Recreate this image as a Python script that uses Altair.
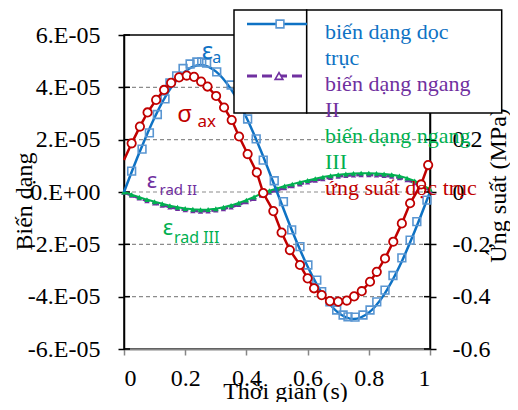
import altair as alt
import pandas as pd

# ---------------- data ----------------
# axial strain, smooth line (units of 1e-5)
ea_t = [0, 0.05, 0.1, 0.15, 0.2, 0.25, 0.3, 0.35, 0.4, 0.45, 0.5,
        0.55, 0.6, 0.65, 0.7, 0.75, 0.8, 0.85, 0.9, 0.95, 1.0]
ea_v = [0, 1.50, 2.85, 3.92, 4.61, 4.85, 4.61, 3.92, 2.85, 1.50, 0,
        -1.50, -2.85, -3.92, -4.61, -4.85, -4.61, -3.92, -2.85, -1.50, 0]

# axial strain, square markers (units of 1e-5)
sq_t = [0.025, 0.059, 0.083, 0.109, 0.134, 0.150, 0.172, 0.193, 0.216, 0.238,
        0.254, 0.270, 0.303, 0.350, 0.379, 0.404, 0.432, 0.455, 0.491, 0.521,
        0.548, 0.575, 0.601, 0.630, 0.646, 0.673, 0.695, 0.716, 0.732, 0.755,
        0.781, 0.804, 0.826, 0.853, 0.879, 0.908, 0.935, 0.957, 0.990]
sq_v = [0.80, 1.64, 2.26, 2.96, 3.56, 4.17, 4.44, 4.72, 4.89, 4.97,
        4.97, 4.93, 4.59, 4.09, 3.44, 2.79, 2.03, 1.22, 0.43, -0.37,
        -1.45, -2.09, -2.79, -3.37, -3.81, -4.20, -4.51, -4.70, -4.77, -4.78,
        -4.70, -4.51, -4.20, -3.75, -3.19, -2.52, -1.84, -1.13, -0.31]

# axial stress (MPa)
sig_t = [0.0, 0.025, 0.052, 0.077, 0.105, 0.131, 0.154, 0.180, 0.205, 0.229,
         0.252, 0.273, 0.301, 0.327, 0.352, 0.376, 0.404, 0.434, 0.455, 0.488,
         0.515, 0.542, 0.575, 0.600, 0.621, 0.646, 0.673, 0.700, 0.728, 0.752,
         0.777, 0.804, 0.826, 0.853, 0.880, 0.908, 0.935, 0.971, 0.994]
sig_v = [0.122, 0.186, 0.250, 0.304, 0.352, 0.390, 0.417, 0.438, 0.445, 0.440,
         0.422, 0.403, 0.367, 0.323, 0.275, 0.212, 0.145, 0.075, -0.004, -0.073,
         -0.155, -0.222, -0.279, -0.330, -0.368, -0.394, -0.417, -0.419, -0.415, -0.399,
         -0.379, -0.343, -0.305, -0.254, -0.190, -0.120, -0.043, 0.029, 0.103]

# radial strains (units of 1e-5)
rad_t = [0, 0.025, 0.05, 0.075, 0.1, 0.125, 0.15, 0.175, 0.2, 0.225,
         0.25, 0.275, 0.3, 0.325, 0.35, 0.375, 0.4, 0.425, 0.45, 0.475,
         0.5, 0.525, 0.55, 0.575, 0.6, 0.625, 0.65, 0.675, 0.7, 0.725,
         0.75, 0.775, 0.8, 0.825, 0.85, 0.875, 0.9, 0.925, 0.95, 0.975, 1.0]
rad3_v = [0.00, -0.10, -0.20, -0.29, -0.37, -0.45, -0.52, -0.58, -0.63, -0.66,
          -0.68, -0.67, -0.64, -0.58, -0.51, -0.42, -0.31, -0.19, -0.05, 0.05,
          0.14, 0.23, 0.30, 0.37, 0.44, 0.51, 0.57, 0.62, 0.66, 0.69,
          0.71, 0.72, 0.72, 0.71, 0.69, 0.66, 0.61, 0.53, 0.42, 0.27, 0.10]
rad2_v = [-0.02, -0.13, -0.24, -0.34, -0.43, -0.51, -0.58, -0.64, -0.69, -0.72,
          -0.74, -0.73, -0.70, -0.65, -0.58, -0.49, -0.38, -0.26, -0.13, -0.02,
          0.07, 0.15, 0.23, 0.30, 0.37, 0.44, 0.50, 0.55, 0.59, 0.62,
          0.64, 0.65, 0.65, 0.64, 0.62, 0.59, 0.54, 0.46, 0.35, 0.21, 0.05]

grid_vals = [-4, -2, 0, 2, 4]
left_tick_vals = [-6, -4, -2, 0, 2, 4, 6]
left_ticks = [-6e-05, -4e-05, -2e-05, 0, 2e-05, 4e-05, 6e-05]
right_ticks = [-0.6, -0.4, -0.2, 0, 0.2, 0.4, 0.6]
x_ticks = [0, 0.2, 0.4, 0.6, 0.8, 1.0]

legend_texts = ["biến dạng dọc", "trục", "biến dạng ngang", "II",
                "biến dạng ngang", "III", "ứng suất dọc trục"]

BLUE = "#0E72C4"
BLUE_SQ = "#5A96D2"
RED = "#C00000"
PURPLE = "#7030A0"
GREEN = "#00B050"
SERIF = "'Liberation Serif', 'Times New Roman', Times, serif"
SANS = "'Noto Sans', 'Open Sans', sans-serif"
legend_colors = [BLUE, BLUE, PURPLE, PURPLE, GREEN, GREEN, RED]


def strain_df(ts, vs):
    return pd.DataFrame({"t": ts, "v": [x * 1e-5 for x in vs]})


# ---------------- encodings ----------------
x_enc = alt.X("t:Q", scale=alt.Scale(domain=[0, 1], nice=False),
              axis=alt.Axis(values=x_ticks, title="Thời gian (s)",
                            labelExpr="datum.value == 0 ? '0' : datum.value == 1 ? '1' : format(datum.value, '.1f')",
                            domainColor="#868686", domainWidth=2, tickColor="#868686",
                            tickWidth=1.5, tickSize=6, labelPadding=11,
                            titleX=161, titleY=49, titleBaseline="alphabetic",
                            grid=False))

y_left = alt.Y("v:Q", scale=alt.Scale(domain=[-6e-05, 6e-05], nice=False, zero=False),
               axis=alt.Axis(values=left_ticks, title="Biến dạng",
                             labelExpr="datum.value == 0 ? '0.E+00' : (datum.value < 0 ? '-' : '') + format(abs(round(datum.value*1e5)), 'd') + '.E-05'",
                             domainColor="black", domainWidth=1.5, tickColor="black",
                             tickWidth=1.5, tickSize=6, labelPadding=18,
                             titleAngle=270, titleX=-100, titleY=166,
                             titleAlign="center", titleBaseline="middle",
                             grid=False))

y_right = alt.Y("v:Q", scale=alt.Scale(domain=[-0.6, 0.6], nice=False, zero=False),
                axis=alt.Axis(orient="right", values=right_ticks, title="Ứng suất (MPa)",
                              labelExpr="datum.value == 0 ? '0' : (datum.value < 0 ? '-' : '') + format(abs(datum.value), '.1f')",
                              labelAlign="left",
                              domainColor="black", domainWidth=1.5, tickColor="black",
                              tickWidth=1.5, tickSize=6, labelPadding=16,
                              titleAngle=270, titleX=75, titleY=150,
                              titleAlign="center", titleBaseline="alphabetic",
                              grid=False))

# ---------------- left (strain) layers ----------------
grid = alt.Chart(strain_df([0] * len(grid_vals), grid_vals)).mark_rule(
    color="#8C8C8C", strokeDash=[4, 3], strokeWidth=1.2).encode(y=y_left)

# inner half of the crossing tick marks on the left axis
left_inner = alt.Chart(strain_df([0] * len(left_tick_vals), left_tick_vals)).mark_rule(
    color="black", strokeWidth=1.5).encode(y=y_left, x=alt.value(0), x2=alt.value(6))

purple_line = alt.Chart(strain_df(rad_t, rad2_v)).mark_line(
    color=PURPLE, strokeWidth=2.5, strokeDash=[7, 3]).encode(x=x_enc, y=y_left)
purple_pts = alt.Chart(strain_df(rad_t, rad2_v)).mark_point(
    shape="triangle-up", filled=True, color=PURPLE, size=28, opacity=1).encode(x=x_enc, y=y_left)

green_line = alt.Chart(strain_df(rad_t, rad3_v)).mark_line(
    color=GREEN, strokeWidth=2).encode(x=x_enc, y=y_left)
green_pts = alt.Chart(strain_df(rad_t, rad3_v)).mark_point(
    shape="triangle-up", filled=True, color=GREEN, size=32, opacity=1).encode(x=x_enc, y=y_left)

blue_line = alt.Chart(strain_df(ea_t, ea_v)).mark_line(
    color=BLUE, strokeWidth=2.5, interpolate="monotone").encode(x=x_enc, y=y_left)
blue_sq = alt.Chart(strain_df(sq_t, sq_v)).mark_point(
    shape="square", filled=False, color=BLUE_SQ, size=60, strokeWidth=1.6, opacity=1).encode(x=x_enc, y=y_left)


def annot(t, v, text, color, size, font=SANS):
    return alt.Chart(strain_df([t], [v])).mark_text(
        text=text, color=color, fontSize=size, font=font, align="left",
        baseline="alphabetic").encode(x=x_enc, y=y_left)


annots = [
    annot(0.254, 5.07, "ε", BLUE, 24),
    annot(0.288, 4.92, "a", BLUE, 16),
    annot(0.174, 2.69, "σ", RED, 24),
    annot(0.240, 2.50, "ax", RED, 17),
    annot(0.074, 0.14, "ε", PURPLE, 22),
    annot(0.116, -0.11, "rad II", PURPLE, 15),
    annot(0.127, -1.64, "ε", GREEN, 22),
    annot(0.163, -1.96, "rad III", GREEN, 16),
]

left = alt.layer(grid, left_inner, purple_line, purple_pts, green_line, green_pts,
                 blue_line, blue_sq, *annots)

# ---------------- right (stress) layers ----------------
right_inner = alt.Chart(pd.DataFrame({"v": right_ticks})).mark_rule(
    color="black", strokeWidth=1.5).encode(y=y_right, x=alt.value(300), x2=alt.value(306))
sig_df = pd.DataFrame({"t": sig_t, "v": sig_v})
red_line = alt.Chart(sig_df).mark_line(color=RED, strokeWidth=2.5).encode(x=x_enc, y=y_right)
red_pts = alt.Chart(sig_df).transform_filter("datum.t > 0").mark_point(
    shape="circle", filled=True, fill="white", stroke=RED, size=70, strokeWidth=1.8,
    opacity=1).encode(x=x_enc, y=y_right)
right = alt.layer(right_inner, red_line, red_pts)

# ---------------- legend (drawn as in the picture) ----------------
one = pd.DataFrame({"a": [0]})
box1 = alt.Chart(one).mark_rect(fill="white", stroke="black", strokeWidth=1.5).encode(
    x=alt.value(110), x2=alt.value(182.7), y=alt.value(-25), y2=alt.value(78))
box2 = alt.Chart(one).mark_rect(fill="white", stroke="black", strokeWidth=1.5).encode(
    x=alt.value(182.7), x2=alt.value(377.7), y=alt.value(-25), y2=alt.value(78))
leg_blue = alt.Chart(one).mark_rule(color=BLUE, strokeWidth=2.5).encode(
    x=alt.value(123), x2=alt.value(183), y=alt.value(-11))
leg_sq = alt.Chart(one).mark_point(shape="square", filled=True, fill="white", stroke=BLUE_SQ,
                                   size=60, strokeWidth=1.6, opacity=1).encode(
    x=alt.value(156), y=alt.value(-11))
leg_purple = alt.Chart(one).mark_rule(color=PURPLE, strokeWidth=3, strokeDash=[10, 5]).encode(
    x=alt.value(123), x2=alt.value(181), y=alt.value(41))
leg_tri = alt.Chart(one).mark_point(shape="triangle-up", filled=True, fill="white", stroke=PURPLE,
                                    size=60, strokeWidth=1.6, opacity=1).encode(
    x=alt.value(155), y=alt.value(41))

leg_baselines = [4.3, 30, 55.7, 82, 108, 133.5, 160]
leg_texts = [
    alt.Chart(one).mark_text(text=txt, color=col, font=SERIF, fontSize=22,
                             align="left", baseline="alphabetic").encode(
        x=alt.value(201), y=alt.value(yb))
    for txt, col, yb in zip(legend_texts, legend_colors, leg_baselines)
]

chart = alt.layer(left, right, box1, box2, leg_blue, leg_sq, leg_purple, leg_tri,
                  *leg_texts).resolve_scale(y="independent").properties(
    width=306, height=314,
    padding={"left": 116, "top": 27, "right": 80, "bottom": 53},
    autosize=alt.AutoSizeParams(type="none"),
).configure_view(stroke="black", strokeWidth=1.5).configure_axis(
    labelFont=SERIF, labelFontSize=24, labelColor="black",
    titleFont=SERIF, titleFontSize=24, titleColor="black", titleFontWeight="normal",
)

chart.save("out.html", embed_options={"renderer": "svg", "actions": False})
